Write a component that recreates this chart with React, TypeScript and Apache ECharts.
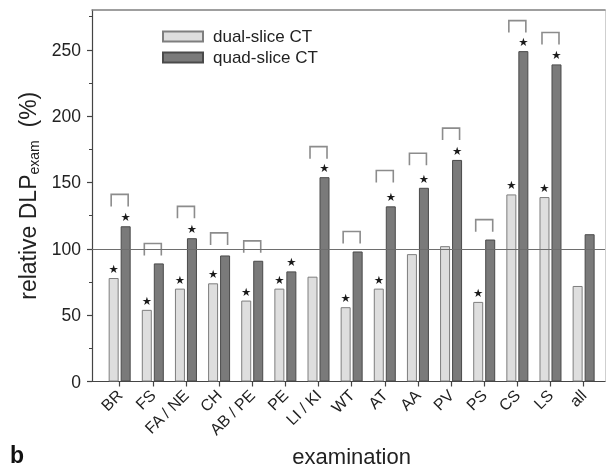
import React, { useEffect, useRef } from "react";
import * as echarts from "echarts";

const categories = ["BR", "FS", "FA / NE", "CH", "AB / PE", "PE", "LI / KI", "WT", "AT", "AA", "PV", "PS", "CS", "LS", "all"];
const dualSlice = [78, 54, 70, 74, 61, 70, 79, 56, 70, 96, 102, 60, 141, 139, 72];
const quadSlice = [117, 89, 108, 95, 91, 83, 154, 98, 132, 146, 167, 107, 249, 239, 111];
const dualSignificant = [1, 1, 1, 1, 1, 1, 0, 1, 1, 0, 0, 1, 1, 1, 0];
const quadSignificant = [1, 0, 1, 0, 0, 1, 1, 0, 1, 1, 1, 0, 1, 1, 0];
const bracketTops = [141, 104, 132, 112, 106, null, 177, 113, 159, 172, 191, 122, 272, 263, null];
const majorTicks = [0, 50, 100, 150, 200, 250];
const minorTicks = [25, 75, 125, 175, 225, 275];
const referenceLevel = 100;
const yMax = 280;

const FONT = "'Liberation Sans', Arial, sans-serif";

export default function App() {
  const ref = useRef<HTMLDivElement>(null);
  useEffect(() => {
    if (!ref.current) return;
    const chart = echarts.init(ref.current, undefined, { renderer: "svg" });
    const bracketData = bracketTops
      .map((v, i) => (v == null ? null : [i, v]))
      .filter((d) => d !== null);
    const starLabel = {
      show: false,
      position: "top",
      distance: 3,
      formatter: "★",
      fontSize: 11.5,
      color: "#1a1a1a",
      fontFamily: "'DejaVu Sans', sans-serif",
    };
    const option: any = {
      animation: false,
      textStyle: { fontFamily: FONT },
      grid: [
        { left: 92, right: 2, top: 10, bottom: 88.5, outerBoundsMode: "none", containLabel: false },
        { left: 103.1, right: 6.8, top: 10, bottom: 88.5, outerBoundsMode: "none", containLabel: false },
      ],
      legend: {
        left: 162,
        top: 28,
        padding: 0,
        orient: "vertical",
        itemWidth: 40,
        itemHeight: 10,
        itemGap: 4,
        icon: "rect",
        textStyle: { fontSize: 17, color: "#222", fontFamily: FONT, lineHeight: 17, padding: [0, 0, 0, 5] },
        data: ["dual-slice CT", "quad-slice CT"],
      },
      graphic: [
        {
          type: "text",
          left: 10,
          top: 443,
          style: { text: "b", fontSize: 23, fontWeight: "bold", fill: "#111", fontFamily: FONT },
        },
      ],
      xAxis: [
        {
          gridIndex: 0,
          type: "value",
          min: 0,
          max: 1,
          position: "bottom",
          axisLine: { show: true, onZero: false, lineStyle: { color: "#444", width: 1.2 } },
          axisTick: { show: false },
          axisLabel: { show: false },
          splitLine: { show: false },
        },
        {
          gridIndex: 0,
          type: "value",
          min: 0,
          max: 1,
          position: "top",
          axisLine: { show: true, onZero: false, lineStyle: { color: "#808080", width: 1.5 } },
          axisTick: { show: false },
          axisLabel: { show: false },
          splitLine: { show: false },
        },
        {
          gridIndex: 1,
          type: "category",
          data: categories,
          position: "bottom",
          axisLine: { show: false, onZero: false },
          axisTick: { show: true, alignWithLabel: true, length: 5, lineStyle: { color: "#444", width: 1.2 } },
          axisLabel: { rotate: 45, fontSize: 16, color: "#222", margin: 11, interval: 0, fontFamily: FONT },
          name: "examination",
          nameLocation: "middle",
          nameGap: 64,
          nameTextStyle: { fontSize: 22, color: "#222", fontFamily: FONT },
          splitLine: { show: false },
        },
      ],
      yAxis: [
        {
          gridIndex: 0,
          type: "value",
          min: 0,
          max: yMax,
          interval: 50,
          position: "left",
          axisLine: { show: true, onZero: false, lineStyle: { color: "#444", width: 1.2 } },
          axisTick: { show: true, length: 5, customValues: majorTicks, lineStyle: { color: "#444", width: 1.2 } },
          axisLabel: { customValues: majorTicks, fontSize: 17.5, color: "#222", margin: 11, fontFamily: FONT },
          splitLine: { show: false },
          name: "{a|relative DLP}{s|exam}{a|  (%)}",
          nameLocation: "middle",
          nameRotate: 90,
          nameGap: 51,
          nameTextStyle: {
            rich: {
              a: { fontSize: 23, color: "#222", fontFamily: FONT, lineHeight: 26 },
              s: { fontSize: 14, color: "#222", fontFamily: FONT, verticalAlign: "bottom", lineHeight: 14 },
            },
          },
        },
        {
          gridIndex: 0,
          type: "value",
          min: 0,
          max: yMax,
          position: "right",
          axisLine: { show: true, onZero: false, lineStyle: { color: "#cfcfcf", width: 1 } },
          axisTick: { show: false },
          axisLabel: { show: false },
          splitLine: { show: false },
        },
        {
          gridIndex: 1,
          type: "value",
          min: 0,
          max: yMax,
          position: "left",
          offset: 11.1,
          axisLine: { show: false, onZero: false },
          axisTick: { show: true, length: 3, customValues: minorTicks, lineStyle: { color: "#444", width: 1 } },
          axisLabel: { show: false },
          splitLine: { show: false },
        },
      ],
      series: [
        {
          name: "dual-slice CT",
          type: "bar",
          xAxisIndex: 2,
          yAxisIndex: 2,
          barWidth: 10,
          barGap: "20%",
          itemStyle: { color: "#dedede", borderColor: "#7e7e7e", borderWidth: 1 },
          label: starLabel,
          data: dualSlice.map((v, i) => ({ value: v, label: { show: !!dualSignificant[i] } })),
        },
        {
          name: "quad-slice CT",
          type: "bar",
          xAxisIndex: 2,
          yAxisIndex: 2,
          barWidth: 10,
          barGap: "20%",
          itemStyle: { color: "#7a7a7a", borderColor: "#4a4a4a", borderWidth: 1 },
          label: starLabel,
          data: quadSlice.map((v, i) => ({ value: v, label: { show: !!quadSignificant[i] } })),
        },
        {
          type: "custom",
          xAxisIndex: 2,
          yAxisIndex: 2,
          silent: true,
          data: bracketData,
          renderItem: (params: any, api: any) => {
            const c = api.coord([api.value(0), api.value(1)]);
            const half = 8.5;
            const leg = 12;
            return {
              type: "polyline",
              shape: {
                points: [
                  [c[0] - half, c[1] + leg],
                  [c[0] - half, c[1]],
                  [c[0] + half, c[1]],
                  [c[0] + half, c[1] + leg],
                ],
              },
              style: { stroke: "#8c8c8c", lineWidth: 1.6, fill: "none" },
            };
          },
        },
        {
          type: "line",
          xAxisIndex: 0,
          yAxisIndex: 0,
          data: [],
          z: 5,
          markLine: {
            silent: true,
            symbol: "none",
            label: { show: false },
            lineStyle: { color: "#6e6e6e", width: 1, type: "solid" },
            data: [{ yAxis: referenceLevel }],
          },
        },
      ],
    };
    chart.setOption(option);
    return () => chart.dispose();
  }, []);
  return <div ref={ref} style={{ position: "fixed", left: 0, top: 0, width: 607, height: 470 }} />;
}
